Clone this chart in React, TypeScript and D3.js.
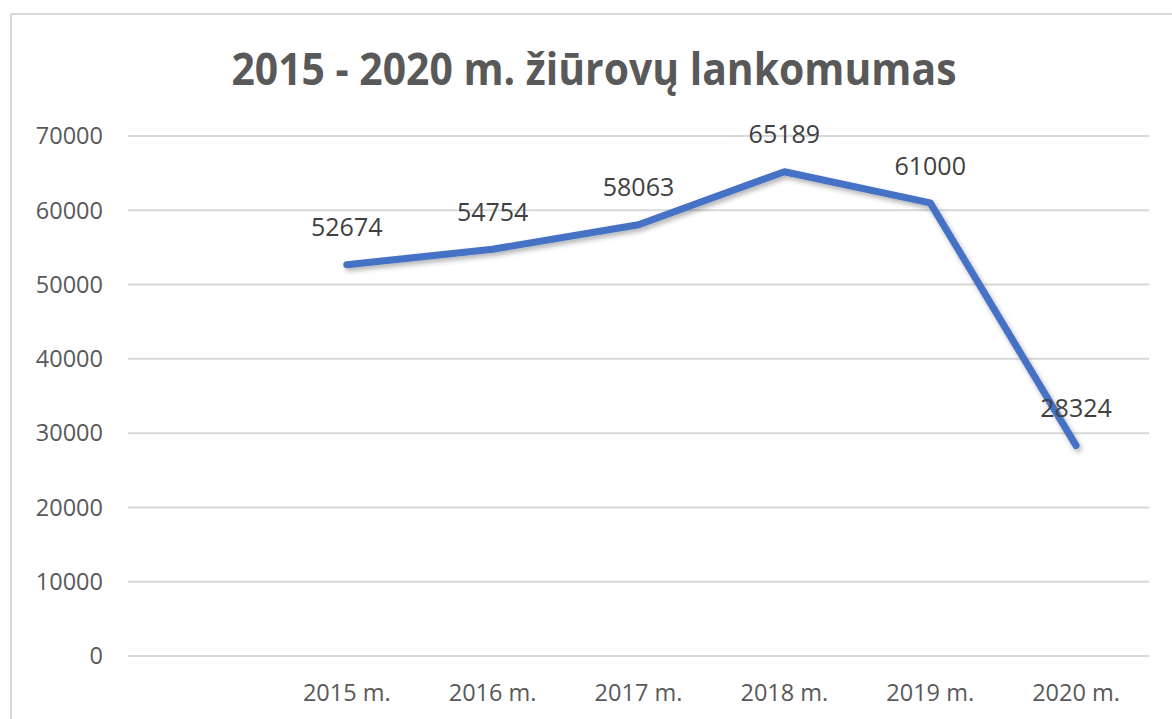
import React from 'react';
import * as d3 from 'd3';

// chart data
const categories = ['', '2015 m.', '2016 m.', '2017 m.', '2018 m.', '2019 m.', '2020 m.'];
const visitors: (number | null)[] = [null, 52674, 54754, 58063, 65189, 61000, 28324];
const yTicks = [0, 10000, 20000, 30000, 40000, 50000, 60000, 70000];
const title = '2015 - 2020 m. žiūrovų lankomumas';

const W = 1172;
const H = 719;
const plot = { left: 128, right: 1149, top: 136, bottom: 656 };
const FONT = '"Open Sans", "Liberation Sans", sans-serif';

export default function App() {
  const x = d3.scaleBand<string>()
    .domain(categories)
    .range([plot.left, plot.right])
    .padding(0);

  const y = d3.scaleLinear()
    .domain([0, 70000])
    .range([plot.bottom, plot.top]);

  const cx = (c: string) => (x(c) ?? 0) + x.bandwidth() / 2;

  const points = categories
    .map((c, i) => ({ c, v: visitors[i] }))
    .filter(d => d.v != null) as { c: string; v: number }[];

  const line = d3.line<{ c: string; v: number }>()
    .x(d => cx(d.c))
    .y(d => y(d.v));

  return (
    <svg
      width={W}
      height={H}
      style={{ position: 'absolute', left: 0, top: 0, display: 'block', background: '#fff' }}
    >
      <defs>
        <filter id="shadow" x="-10%" y="-10%" width="120%" height="130%">
          <feDropShadow dx="2" dy="3" stdDeviation="2.5" floodColor="#000" floodOpacity="0.3" />
        </filter>
      </defs>

      {/* chart frame */}
      <rect x={11} y={14} width={1300} height={900} fill="#fff" stroke="#d9d9d9" strokeWidth={2} />

      {/* title */}
      <text
        x={594}
        y={85}
        textAnchor="middle"
        fontFamily={FONT}
        fontWeight="bold"
        fontSize={44}
        fill="#595959"
        textLength={725}
        lengthAdjust="spacingAndGlyphs"
      >
        {title}
      </text>

      {/* gridlines + y ticks */}
      {yTicks.map(t => (
        <g key={t}>
          <line x1={plot.left} x2={plot.right} y1={y(t)} y2={y(t)} stroke="#d9d9d9" strokeWidth={2} />
          <text
            x={103}
            y={y(t)}
            dy="0.35em"
            textAnchor="end"
            fontFamily={FONT}
            fontSize={23.5}
            fill="#595959"
          >
            {t}
          </text>
        </g>
      ))}

      {/* x labels */}
      {categories.map(c => (
        <text
          key={c || 'blank'}
          x={cx(c)}
          y={701}
          textAnchor="middle"
          fontFamily={FONT}
          fontSize={23.5}
          fill="#595959"
        >
          {c}
        </text>
      ))}

      {/* series line */}
      <path
        d={line(points) ?? ''}
        fill="none"
        stroke="#4472c4"
        strokeWidth={7}
        strokeLinejoin="round"
        strokeLinecap="round"
        filter="url(#shadow)"
      />

      {/* data labels */}
      {points.map(d => (
        <text
          key={d.c}
          x={cx(d.c)}
          y={y(d.v) - 37}
          dy="0.35em"
          textAnchor="middle"
          fontFamily={FONT}
          fontSize={25}
          fill="#404040"
        >
          {d.v}
        </text>
      ))}
    </svg>
  );
}
